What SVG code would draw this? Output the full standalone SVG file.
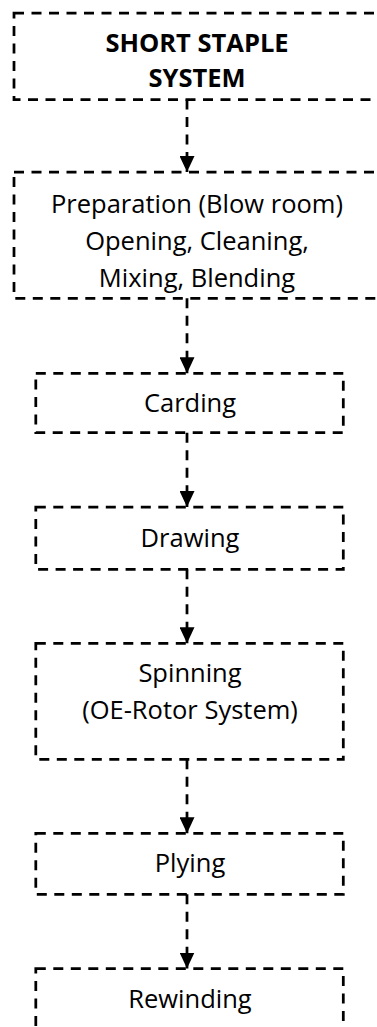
<svg xmlns="http://www.w3.org/2000/svg" width="377" height="1027" viewBox="0 0 377 1027">
  <defs>
    <style>
      .box { fill: none; stroke: #000; stroke-width: 2.75; stroke-dasharray: 10 7.5; }
      .link { fill: none; stroke: #000; stroke-width: 2.75; stroke-dasharray: 10 7.5; }
      .label { font-family: "Open Sans", "Noto Sans", sans-serif; font-size: 25.5px; fill: #000; text-anchor: middle; }
      .title { font-weight: bold; }
    </style>
    <marker id="arrowhead" viewBox="0 0 16 15" refX="16" refY="7.5" markerWidth="16" markerHeight="15" markerUnits="userSpaceOnUse" orient="auto">
      <path d="M0,0 L16,7.5 L0,15 Z" fill="#000"/>
    </marker>
  </defs>

  <rect width="377" height="1027" fill="#fff"/>

  <!-- connectors -->
  <g id="connectors">
    <line class="link" x1="187" y1="99.5" x2="187" y2="172" marker-end="url(#arrowhead)"/>
    <line class="link" x1="187" y1="298.3" x2="187" y2="373.3" marker-end="url(#arrowhead)"/>
    <line class="link" x1="187" y1="432.7" x2="187" y2="507" marker-end="url(#arrowhead)"/>
    <line class="link" x1="187" y1="569.3" x2="187" y2="643.3" marker-end="url(#arrowhead)"/>
    <line class="link" x1="187" y1="759.3" x2="187" y2="833.3" marker-end="url(#arrowhead)"/>
    <line class="link" x1="187" y1="894.3" x2="187" y2="968.5" marker-end="url(#arrowhead)"/>
  </g>

  <!-- process steps -->
  <g id="node-short-staple">
    <rect class="box" x="14" y="13" width="380" height="86.5"/>
    <text class="label title" x="197" y="52">SHORT STAPLE</text>
    <text class="label title" x="197" y="87">SYSTEM</text>
  </g>

  <g id="node-preparation">
    <rect class="box" x="14" y="172" width="380" height="126.3"/>
    <text class="label" x="197" y="212.5">Preparation (Blow room)</text>
    <text class="label" x="197" y="249.5">Opening, Cleaning,</text>
    <text class="label" x="197" y="286.5">Mixing, Blending</text>
  </g>

  <g id="node-carding">
    <rect class="box" x="35.8" y="373.3" width="307.5" height="59.4"/>
    <text class="label" x="190" y="412">Carding</text>
  </g>

  <g id="node-drawing">
    <rect class="box" x="35.8" y="507" width="307.5" height="62.3"/>
    <text class="label" x="190" y="547">Drawing</text>
  </g>

  <g id="node-spinning">
    <rect class="box" x="35.8" y="643.3" width="307.5" height="116"/>
    <text class="label" x="190" y="682">Spinning</text>
    <text class="label" x="190" y="718.5">(OE-Rotor System)</text>
  </g>

  <g id="node-plying">
    <rect class="box" x="35.8" y="833.3" width="307.5" height="61"/>
    <text class="label" x="190" y="872">Plying</text>
  </g>

  <g id="node-rewinding">
    <rect class="box" x="35.8" y="968.5" width="307.5" height="80"/>
    <text class="label" x="190" y="1008">Rewinding</text>
  </g>
</svg>
